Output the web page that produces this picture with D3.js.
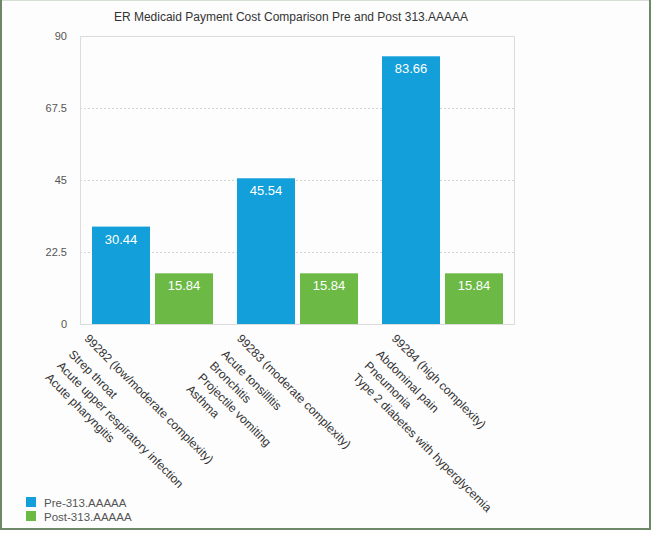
<!DOCTYPE html>
<html>
<head>
<meta charset="utf-8">
<script src="https://cdn.jsdelivr.net/npm/d3@7"></script>
<style>
  body { margin: 0; background: #fff; }
  text { font-family: "Liberation Sans", Arial, sans-serif; }
</style>
</head>
<body>
<script>
var categories = ["99282 (low/moderate complexity)", "99283 (moderate complexity)", "99284 (high complexity)"];
var diagnoses = [
    ["Strep throat", "Acute upper respiratory infection", "Acute pharyngitis"],
    ["Acute tonsillitis", "Bronchitis", "Projectile vomiting", "Asthma"],
    ["Abdominal pain", "Pneumonia", "Type 2 diabetes with hyperglycemia"]
];
var seriesNames = ["Pre-313.AAAAA", "Post-313.AAAAA"];
var preValues = [30.44, 45.54, 83.66];
var postValues = [15.84, 15.84, 15.84];
var yTicks = [0, 22.5, 45, 67.5, 90];

var width = 654;
var height = 534;
var color = ["#139fd9", "#6cb946"];

var svg = d3.select("body")
            .append("svg")
            .attr("width", width)
            .attr("height", height);

// outer frame
svg.append("rect").attr("x", 0).attr("y", 0).attr("width", 651).attr("height", 530).attr("fill", "#fdfdfd");
svg.append("line").attr("x1", 0).attr("x2", 651).attr("y1", 0.5).attr("y2", 0.5).attr("stroke", "#d6dfd3");
svg.append("path").attr("d", "M1,0V529H650V0").attr("fill", "none").attr("stroke", "#6f8769").attr("stroke-width", 2);

var x = d3.scaleBand().domain(categories).range([80, 515]);
var x1 = d3.scaleBand().domain(seriesNames).range([12, x.bandwidth() - 12]).paddingInner(5 / 63);
var y = d3.scaleLinear().domain([0, 90]).range([324, 36]);

// title
svg.append("text")
   .attr("x", 291).attr("y", 21)
   .attr("text-anchor", "middle")
   .attr("font-size", "12px").attr("fill", "#333")
   .text("ER Medicaid Payment Cost Comparison Pre and Post 313.AAAAA");

// grid
svg.append("g").selectAll("line")
   .data(yTicks.filter(function(d) { return d > 0 && d < 90; }))
   .enter().append("line")
   .attr("x1", 80).attr("x2", 515)
   .attr("y1", function(d) { return y(d) + 0.5; })
   .attr("y2", function(d) { return y(d) + 0.5; })
   .attr("stroke", "#d4d4d4").attr("stroke-dasharray", "2,2");

svg.append("rect")
   .attr("x", 80.5).attr("y", y(90) + 0.5)
   .attr("width", 434).attr("height", y(0) - y(90))
   .attr("fill", "none").attr("stroke", "#dcdcdc");

// y axis labels
svg.append("g").selectAll("text")
   .data(yTicks)
   .enter().append("text")
   .attr("x", 67).attr("y", function(d) { return y(d) + 4; })
   .attr("text-anchor", "end")
   .attr("font-size", "11px").attr("fill", "#555")
   .text(function(d) { return d; });

// bars
var groups = svg.append("g").selectAll("g")
   .data(categories)
   .enter().append("g")
   .attr("transform", function(d) { return "translate(" + x(d) + ",0)"; });

var bars = groups.selectAll("g")
   .data(function(d, i) { return [{s: seriesNames[0], v: preValues[i]}, {s: seriesNames[1], v: postValues[i]}]; })
   .enter().append("g");

bars.append("rect")
    .attr("x", function(d) { return x1(d.s); })
    .attr("y", function(d) { return y(d.v); })
    .attr("width", x1.bandwidth())
    .attr("height", function(d) { return y(0) - y(d.v); })
    .attr("fill", function(d, i) { return color[i]; });

bars.append("text")
    .attr("x", function(d) { return x1(d.s) + x1.bandwidth() / 2; })
    .attr("y", function(d) { return y(d.v) + 17; })
    .attr("text-anchor", "middle")
    .attr("font-size", "13px").attr("fill", "#fff")
    .text(function(d) { return d.v.toFixed(2); });

// rotated category labels
categories.forEach(function(c, i) {
    var t = svg.append("text")
               .attr("font-size", "12px").attr("fill", "#333");
    t.append("tspan").attr("x", 0).attr("dy", "0.75em").text(c);
    var L = t.node().getComputedTextLength();
    diagnoses[i].forEach(function(d, j) {
        t.append("tspan").attr("x", 0).attr("dy", j === 0 ? 22 : 16.5).text(d);
    });
    var cx = x(c) + x.bandwidth() / 2;
    t.attr("transform", "translate(" + (cx - L * Math.SQRT1_2 / 2) + ",333) rotate(45)");
});

// legend
var legend = svg.append("g").selectAll("g")
   .data(seriesNames)
   .enter().append("g")
   .attr("transform", function(d, i) { return "translate(26," + (497 + i * 14) + ")"; });

legend.append("rect").attr("width", 10).attr("height", 10)
      .attr("fill", function(d, i) { return color[i]; });
legend.append("text").attr("x", 18).attr("y", 9.5)
      .attr("font-size", "11.5px").attr("fill", "#555")
      .text(function(d) { return d; });
</script>
</body>
</html>
